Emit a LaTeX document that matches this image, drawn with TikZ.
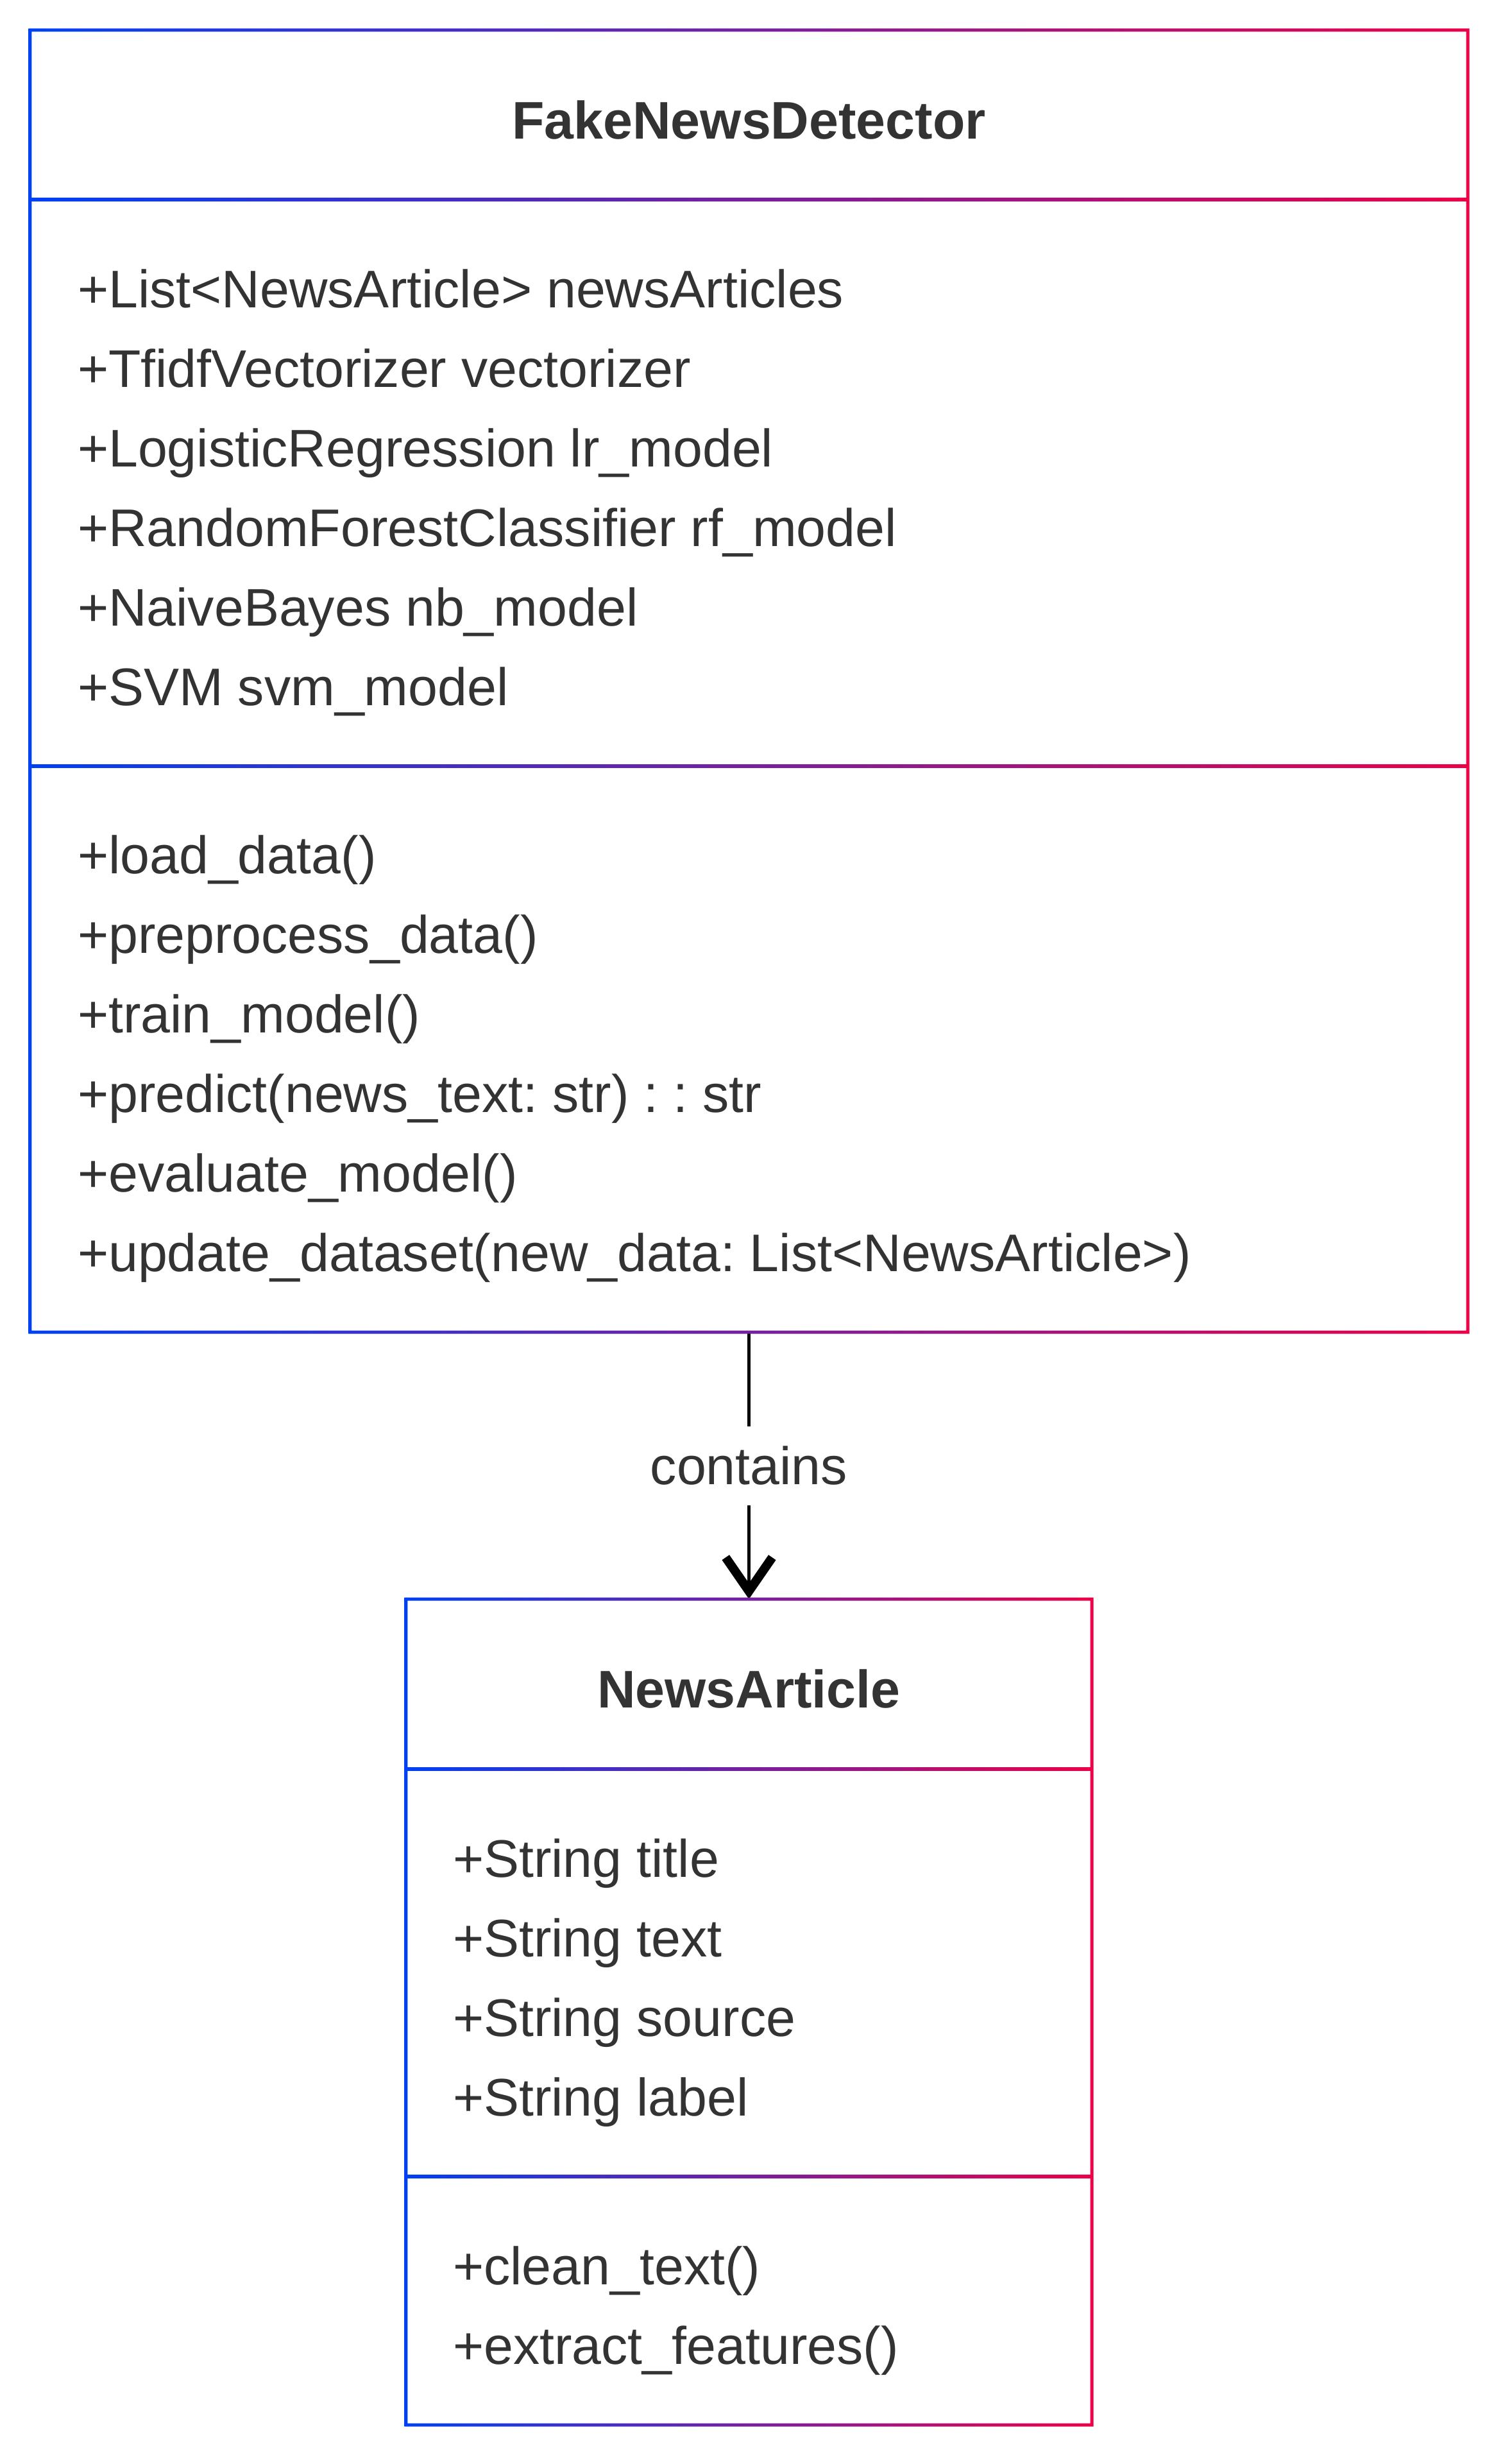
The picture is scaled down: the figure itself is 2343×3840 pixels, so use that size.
\documentclass[tikz,border=0pt]{standalone}
\usepackage{fontspec}
\setmainfont{Liberation Sans}
\usepackage{tikz}
\usetikzlibrary{arrows.meta}
\definecolor{bleu}{RGB}{0,64,245}
\definecolor{rouge}{RGB}{236,0,72}
\definecolor{encre}{RGB}{51,51,51}
\frenchspacing

\begin{document}
\begin{tikzpicture}[x=0.2pt, y=-0.2pt]
	\tikzset{classe/.style={rectangle, inner sep=0pt, outer sep=0pt}, titre/.style={anchor=base, inner sep=0pt, text=encre, font=\fontsize{16.5}{20}\selectfont\bfseries}, membre/.style={anchor=base west, inner sep=0pt, text=encre, font=\fontsize{16.5}{20}\selectfont}, etiquette/.style={fill=white, inner sep=0pt, minimum height=24.6pt, text=encre, font=\fontsize{16.5}{20}\selectfont}, fleche/.style={line width=1.1pt, -{Straight Barb[length=10.5pt, width=14.5pt, line width=2.8pt, sharp]}}, cadre/.style={left color=bleu, right color=rouge, even odd rule}};

	\useasboundingbox (0,0) rectangle (2343,3840);

	\node[classe, minimum width=448.2pt, minimum height=405.8pt] (fnd) at (1167.5, 1061.5) {};
	\node[classe, minimum width=213.8pt, minimum height=257.4pt] (art) at (1167.5, 3135.5) {};

	\draw[fleche] (fnd.south) -- node[etiquette] {contains} (art.north);

	\shade[cadre] ([shift={(-0.5pt,0.5pt)}]fnd.north west) rectangle ([shift={(0.5pt,-0.5pt)}]fnd.south east) ([shift={(0.5pt,-0.5pt)}]fnd.north west) rectangle ([shift={(-0.5pt,0.5pt)}]fnd.south east);
	\shade[cadre] (47,308.5) rectangle (2288,313.5);
	\shade[cadre] (47,1191.5) rectangle (2288,1196.5);

	\shade[cadre] ([shift={(-0.5pt,0.5pt)}]art.north west) rectangle ([shift={(0.5pt,-0.5pt)}]art.south east) ([shift={(0.5pt,-0.5pt)}]art.north west) rectangle ([shift={(-0.5pt,0.5pt)}]art.south east);
	\shade[cadre] (633,2754.5) rectangle (1702,2759.5);
	\shade[cadre] (633,3389.5) rectangle (1702,3394.5);

	\node[titre] (t1) at (1167.5,  216) {FakeNewsDetector};
	\node[membre] (a1) at ( 120,  479) {+List<NewsArticle> newsArticles};
	\node[membre] (a2) at ( 120,  603) {+TfidfVectorizer vectorizer};
	\node[membre] (a3) at ( 120,  727) {+LogisticRegression lr\_model};
	\node[membre] (a4) at ( 120,  851) {+RandomForestClassifier rf\_model};
	\node[membre] (a5) at ( 120,  975) {+NaiveBayes nb\_model};
	\node[membre] (a6) at ( 120, 1099) {+SVM svm\_model};
	\node[membre] (m1) at ( 120, 1361) {+load\_data()};
	\node[membre] (m2) at ( 120, 1485) {+preprocess\_data()};
	\node[membre] (m3) at ( 120, 1609) {+train\_model()};
	\node[membre] (m4) at ( 120, 1733) {+predict(news\_text: str) : : str};
	\node[membre] (m5) at ( 120, 1857) {+evaluate\_model()};
	\node[membre] (m6) at ( 120, 1981) {+update\_dataset(new\_data: List<NewsArticle>)};

	\node[titre] (t2) at (1167.5, 2661) {NewsArticle};
	\node[membre] (b1) at ( 705, 2925) {+String title};
	\node[membre] (b2) at ( 705, 3049) {+String text};
	\node[membre] (b3) at ( 705, 3173) {+String source};
	\node[membre] (b4) at ( 705, 3297) {+String label};
	\node[membre] (n1) at ( 705, 3560) {+clean\_text()};
	\node[membre] (n2) at ( 705, 3684) {+extract\_features()};

\end{tikzpicture}
\end{document}
